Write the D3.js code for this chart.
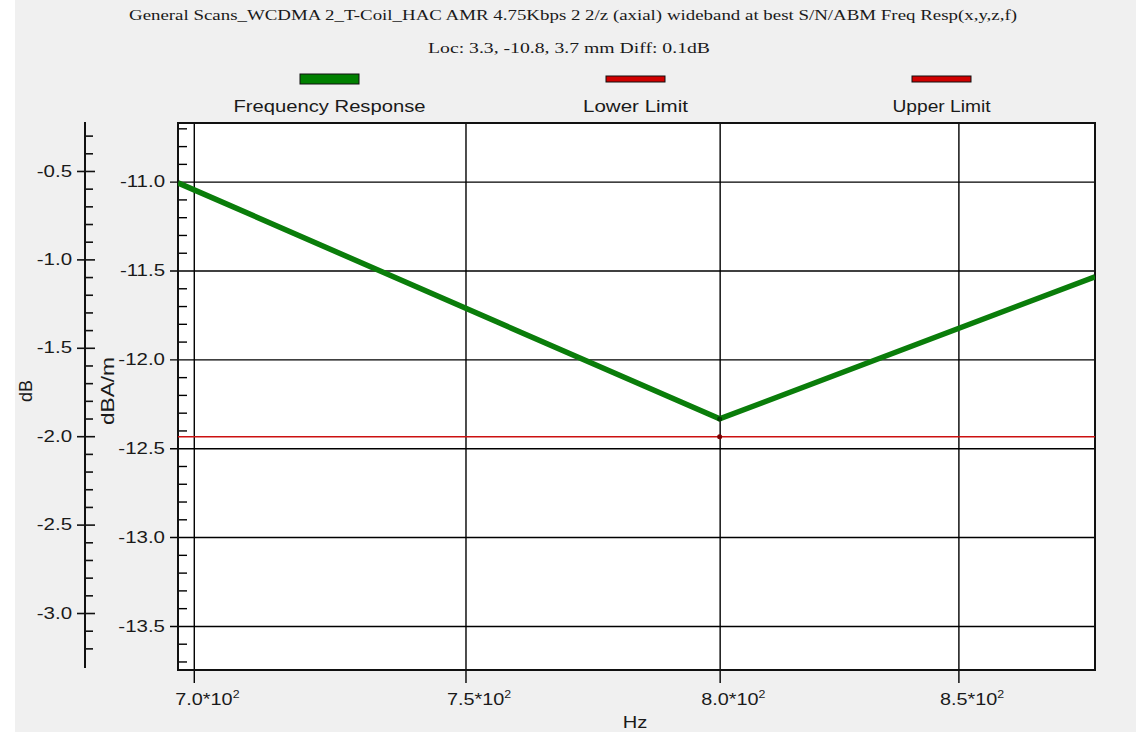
<!DOCTYPE html>
<html>
<head>
<meta charset="utf-8">
<script src="https://cdn.jsdelivr.net/npm/d3@7"></script>
<style>
  html, body { margin: 0; padding: 0; background: #f0f0f0; }
  svg { display: block; }
  text { font-family: "Liberation Sans", Arial, sans-serif; fill: #1a1a1a; }
  .serif { font-family: "Liberation Serif", "Times New Roman", serif; }
</style>
</head>
<body>
<svg id="chart" width="1136" height="732"></svg>
<script>
// ---------------- data ----------------
const titleLine1 = "General Scans_WCDMA 2_T-Coil_HAC AMR 4.75Kbps 2 2/z (axial) wideband at best S/N/ABM Freq Resp(x,y,z,f)";
const titleLine2 = "Loc: 3.3, -10.8, 3.7 mm Diff: 0.1dB";
const freqHz = [697.2, 800, 880];
const freqResponse = [-11.007, -12.335, -11.535];
const lowerLimit = [-12.435, -12.435, -12.435];
const xTickValues = [700, 750, 800, 850];
const xTickMantissa = ["7.0", "7.5", "8.0", "8.5"];
const dBAmTicks = [-11.0, -11.5, -12.0, -12.5, -13.0, -13.5];
const dBTicks = [-0.5, -1.0, -1.5, -2.0, -2.5, -3.0];
const legendLabels = ["Frequency Response", "Lower Limit", "Upper Limit"];
const legendColors = ["#008000", "#d00000", "#d00000"];

// ---------------- layout ----------------
const svg = d3.select("#chart");
const frame = { left: 178, right: 1095, top: 123, bottom: 670 };
const SX = 1.26; // horizontal stretch of the screenshot text
const fmt = d => d.toFixed(1); // plain hyphen-minus like the reference

function stretch(sel, sx) {
  sel.each(function () {
    const ax = +(this.getAttribute("x") || 0);
    d3.select(this).attr("transform", `translate(${ax * (1 - sx)},0) scale(${sx},1)`);
  });
}

svg.append("rect").attr("x", 0).attr("y", 0).attr("width", 1136).attr("height", 732).attr("fill", "#f0f0f0");
svg.append("rect").attr("x", 0).attr("y", 0).attr("width", 15).attr("height", 732).attr("fill", "#ffffff");

const x = d3.scaleLog().domain([697.2, 880]).range([frame.left, frame.right]);
const y = d3.scaleLinear().domain([-10.67, -13.748]).range([frame.top, frame.bottom]);
const yDB = d3.scaleLinear().domain([-0.223, -3.311]).range([122, 668]);

// titles
svg.append("text").attr("class", "serif").attr("x", 573).attr("y", 20)
  .attr("text-anchor", "middle").attr("font-size", 14.5)
  .attr("textLength", 888).attr("lengthAdjust", "spacingAndGlyphs").text(titleLine1);
svg.append("text").attr("class", "serif").attr("x", 569).attr("y", 53)
  .attr("text-anchor", "middle").attr("font-size", 14.5)
  .attr("textLength", 282).attr("lengthAdjust", "spacingAndGlyphs").text(titleLine2);

// legend
const legendX = [329.5, 635.5, 941.5];
const legendW = [192, 105, 98];
legendLabels.forEach((lab, i) => {
  const h = i === 0 ? 10 : 6;
  svg.append("rect").attr("x", legendX[i] - 29.5).attr("y", 79 - h / 2)
    .attr("width", 59).attr("height", h)
    .attr("fill", legendColors[i]).attr("stroke", "#111").attr("stroke-width", 1);
  svg.append("text").attr("x", legendX[i]).attr("y", 112).attr("text-anchor", "middle")
    .attr("font-size", 16).attr("textLength", legendW[i]).attr("lengthAdjust", "spacingAndGlyphs")
    .text(lab);
});

// plot background
svg.append("rect").attr("x", frame.left).attr("y", frame.top)
  .attr("width", frame.right - frame.left).attr("height", frame.bottom - frame.top)
  .attr("fill", "#ffffff");

// horizontal gridlines (major dBA/m) with outer tick
const yMajor = d3.axisLeft(y).tickValues(dBAmTicks).tickSize(8).tickFormat(fmt);
const gY = svg.append("g").attr("transform", `translate(${frame.left},0)`).call(yMajor);
gY.select(".domain").remove();
gY.selectAll(".tick line").attr("stroke", "#000").attr("stroke-width", 1.4)
  .attr("x2", -8).attr("x1", frame.right - frame.left);
gY.selectAll(".tick text").attr("x", -13).attr("font-size", 16).attr("fill", "#1a1a1a")
  .attr("font-family", "Liberation Sans, Arial, sans-serif").call(stretch, 1.28);
// minor ticks inside
const yMinorVals = d3.range(-10.7, -13.75, -0.1).filter(v => Math.abs(v * 2 - Math.round(v * 2)) > 0.01);
const gYm = svg.append("g").attr("transform", `translate(${frame.left},0)`)
  .call(d3.axisRight(y).tickValues(yMinorVals).tickSize(9).tickFormat(""));
gYm.select(".domain").remove();
gYm.selectAll(".tick line").attr("stroke", "#000").attr("stroke-width", 1.4);

// vertical gridlines
const xAxis = d3.axisBottom(x).tickValues(xTickValues).tickSize(13).tickFormat("");
const gX = svg.append("g").attr("transform", `translate(0,${frame.bottom})`).call(xAxis);
gX.select(".domain").remove();
gX.selectAll(".tick line").attr("stroke", "#000").attr("stroke-width", 1.4)
  .attr("y1", frame.top - frame.bottom).attr("y2", 13);
gX.selectAll(".tick").each(function (d, i) {
  const t = d3.select(this).append("text").attr("x", -19).attr("y", 35)
    .attr("font-size", 16).attr("fill", "#1a1a1a")
    .attr("font-family", "Liberation Sans, Arial, sans-serif").attr("text-anchor", "start");
  t.append("tspan").text(xTickMantissa[i] + "*10");
  t.append("tspan").attr("font-size", 10).attr("dy", -7).text("2");
  t.call(stretch, 1.24);
});

// frame
svg.append("rect").attr("x", frame.left).attr("y", frame.top)
  .attr("width", frame.right - frame.left).attr("height", frame.bottom - frame.top)
  .attr("fill", "none").attr("stroke", "#111").attr("stroke-width", 2);

// left dB axis
const dbX = 85;
const gDB = svg.append("g").attr("transform", `translate(${dbX},0)`)
  .call(d3.axisLeft(yDB).tickValues(dBTicks).tickSize(8).tickFormat(fmt));
gDB.select(".domain").remove();
gDB.selectAll(".tick line").attr("stroke", "#111").attr("stroke-width", 1.6).attr("x1", 10);
gDB.selectAll(".tick text").attr("x", -13).attr("font-size", 16).attr("fill", "#1a1a1a")
  .attr("font-family", "Liberation Sans, Arial, sans-serif").call(stretch, 1.28);
const dbMinor = d3.range(-0.3, -3.25, -0.1).filter(v => Math.abs(v * 2 - Math.round(v * 2)) > 0.01);
const gDBm = svg.append("g").attr("transform", `translate(${dbX},0)`)
  .call(d3.axisRight(yDB).tickValues(dbMinor).tickSize(8).tickFormat(""));
gDBm.select(".domain").remove();
gDBm.selectAll(".tick line").attr("stroke", "#111").attr("stroke-width", 1.6);
svg.append("line").attr("x1", dbX).attr("x2", dbX).attr("y1", yDB.range()[0]).attr("y2", yDB.range()[1])
  .attr("stroke", "#111").attr("stroke-width", 2);

// axis titles
svg.append("text").attr("transform", "translate(32,391) rotate(-90)").attr("text-anchor", "middle")
  .attr("font-size", 18).attr("textLength", 22).attr("lengthAdjust", "spacingAndGlyphs").text("dB");
svg.append("text").attr("transform", "translate(114,391) rotate(-90)").attr("text-anchor", "middle")
  .attr("font-size", 18).attr("textLength", 68).attr("lengthAdjust", "spacingAndGlyphs").text("dBA/m");
svg.append("text").attr("x", 635).attr("y", 728).attr("text-anchor", "middle")
  .attr("font-size", 16).text("Hz").call(stretch, SX);

// data lines
const clip = svg.append("clipPath").attr("id", "plotclip").append("rect")
  .attr("x", frame.left).attr("y", frame.top)
  .attr("width", frame.right - frame.left).attr("height", frame.bottom - frame.top);
const plot = svg.append("g").attr("clip-path", "url(#plotclip)");
const lineGen = arr => d3.line().x((d, i) => x(freqHz[i])).y(d => y(d))(arr);

plot.append("path").attr("d", lineGen(lowerLimit)).attr("fill", "none")
  .attr("stroke", "#cc1010").attr("stroke-width", 1.5);
plot.append("path").attr("d", lineGen(freqResponse)).attr("fill", "none")
  .attr("stroke", "#0a7d0a").attr("stroke-width", 5.5).attr("stroke-linejoin", "miter");

const interior = freqHz.map((f, i) => i).filter(i => freqHz[i] > x.domain()[0] && freqHz[i] < x.domain()[1]);
plot.selectAll(".ptL").data(interior).join("circle")
  .attr("cx", i => x(freqHz[i])).attr("cy", i => y(lowerLimit[i])).attr("r", 2.5).attr("fill", "#7a0000");
plot.selectAll(".ptF").data(interior).join("circle")
  .attr("cx", i => x(freqHz[i])).attr("cy", i => y(freqResponse[i])).attr("r", 2.5).attr("fill", "#063d06");
</script>
</body>
</html>
